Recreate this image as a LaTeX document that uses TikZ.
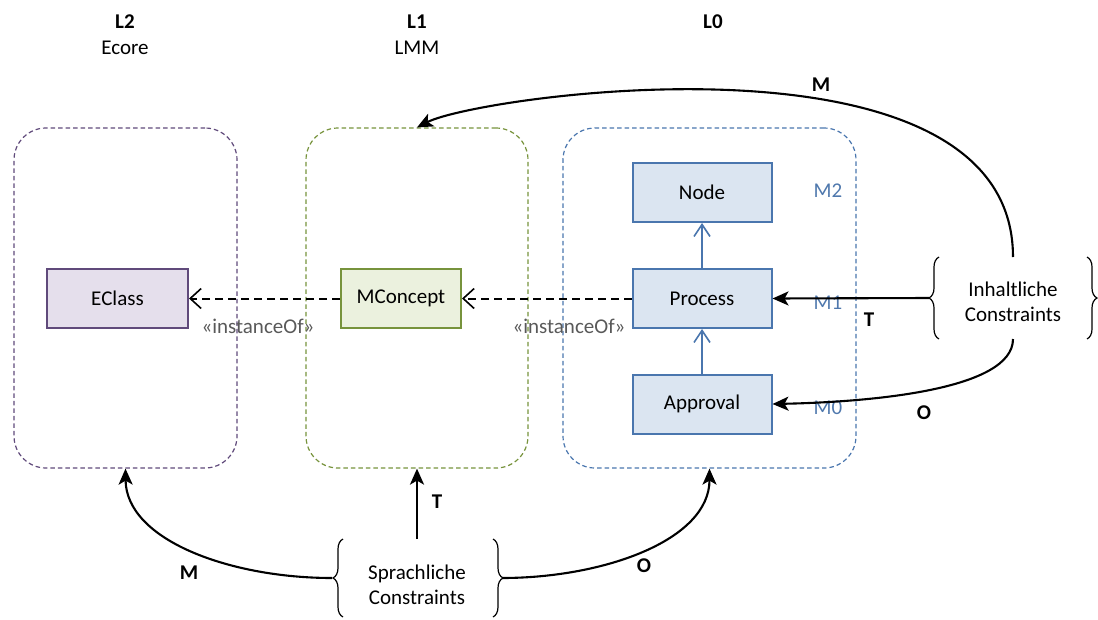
\documentclass[tikz,border=0pt]{standalone}
\usepackage{fontspec}
\setmainfont{Carlito}
\usetikzlibrary{arrows.meta,decorations.pathreplacing,calc}
\definecolor{purpB}{HTML}{604A7B}
\definecolor{purpF}{HTML}{E5DFEC}
\definecolor{greenB}{HTML}{77933C}
\definecolor{greenF}{HTML}{EBF1DE}
\definecolor{blueB}{HTML}{4A76AE}
\definecolor{blueF}{HTML}{DBE5F1}
\definecolor{blueT}{HTML}{4F78AD}
\definecolor{grayT}{HTML}{595959}
\begin{document}
\begin{tikzpicture}[x=1pt,y=-1pt,
  font=\fontsize{21}{25}\selectfont,
  container/.style={draw, dashed, dash pattern=on 4.5pt off 3pt, line width=1.2pt, rounded corners=32pt, minimum height=340pt, inner sep=0pt},
  cls/.style={draw, line width=2pt, minimum height=59pt, inner sep=0pt},
  bold/.style={font=\fontsize{21}{25}\selectfont\bfseries},
  mlabel/.style={text=blueT},
  inst/.style={text=grayT},
  dasharrow/.style={line width=2pt, dash pattern=on 8pt off 5pt, -{Straight Barb[length=11pt,width=20pt,line width=1.6pt]}},
  genarrow/.style={draw=blueB, line width=2.1pt, -{Straight Barb[length=12pt,width=16pt,line width=1.6pt]}},
  conarrow/.style={line width=2.1pt, -{Stealth[length=16pt,width=14pt,inset=4pt]}},
  bracestyle/.style={line width=1.2pt, decorate, decoration={brace, amplitude=10pt}}
]
\useasboundingbox (0,0) rectangle (1098,619);

% headers
\node[bold] (hL2) at (125,22) {L2};
\node (hEcore) at (125,48) {Ecore};
\node[bold] (hL1) at (417,22) {L1};
\node (hLMM) at (417,48) {LMM};
\node[bold] (hL0) at (713,22) {L0};

% containers
\node[container, purpB, minimum width=223pt] (c2) at (125.5,298) {};
\node[container, greenB, minimum width=222pt] (c1) at (417,298) {};
\node[container, blueB, minimum width=293pt] (c0) at (709.5,298) {};

% classes
\node[cls, draw=purpB, fill=purpF, minimum width=141pt] (eclass) at (117.5,298.5) {EClass};
\node[cls, draw=greenB, fill=greenF, minimum width=120pt] (mconcept) at (401,298.5) {MConcept};
\node[cls, draw=blueB, fill=blueF, minimum width=139pt] (node) at (702,192.5) {Node};
\node[cls, draw=blueB, fill=blueF, minimum width=139pt] (process) at (702,298.5) {Process};
\node[cls, draw=blueB, fill=blueF, minimum width=139pt] (approval) at (702,404) {Approval};

% M labels
\node[mlabel] (m2) at (828,191) {M2};
\node[mlabel] (m1) at (828,303) {M1};
\node[mlabel] (m0) at (828,408) {M0};

% generalisation arrows
\draw[genarrow] (approval.north) -- (process.south);
\draw[genarrow] (process.north) -- (node.south);

% instanceOf
\draw[dasharrow] (process.west) -- (mconcept.east);
\draw[dasharrow] (mconcept.west) -- (eclass.east);
\node[inst] (inst1) at (258,326) {«instanceOf»};
\node[inst] (inst2) at (569,326) {«instanceOf»};

% Inhaltliche Constraints
\node[align=center] (ic) at (1013,302) {Inhaltliche\\Constraints};
\draw[bracestyle] (939,339) -- (939,257);
\draw[bracestyle] (1087,257) -- (1087,339);
\coordinate (ictip) at (929,298);
\coordinate (ictop) at (1013,257);
\coordinate (icbot) at (1013,339);

\draw[conarrow] (ictip) -- (process.east);
\draw[conarrow] (ictop) .. controls (1013,20) and (480,95) .. (c1.north);
\draw[conarrow] (icbot) .. controls (1013,390) and (870,402) .. (approval.east);
\node[bold] (lT1) at (869,320) {T};
\node[bold] (lM1) at (821,85) {M};
\node[bold] (lO1) at (924,413) {O};

% Sprachliche Constraints
\node[align=center] (sc) at (417,585) {Sprachliche\\Constraints};
\draw[bracestyle] (343,617) -- (343,539);
\draw[bracestyle] (493,539) -- (493,617);
\coordinate (sctop) at (417,539);
\coordinate (scl) at (332,578);
\coordinate (scr) at (502,578);

\draw[conarrow] (sctop) -- (c1.south);
\draw[conarrow] (scl) .. controls (230,578) and (126,540) .. (c2.south);
\draw[conarrow] (scr) .. controls (604,578) and (709.5,540) .. (c0.south);
\node[bold] (lT2) at (437,502) {T};
\node[bold] (lM2) at (189,573) {M};
\node[bold] (lO2) at (644,566) {O};
\end{tikzpicture}
\end{document}
